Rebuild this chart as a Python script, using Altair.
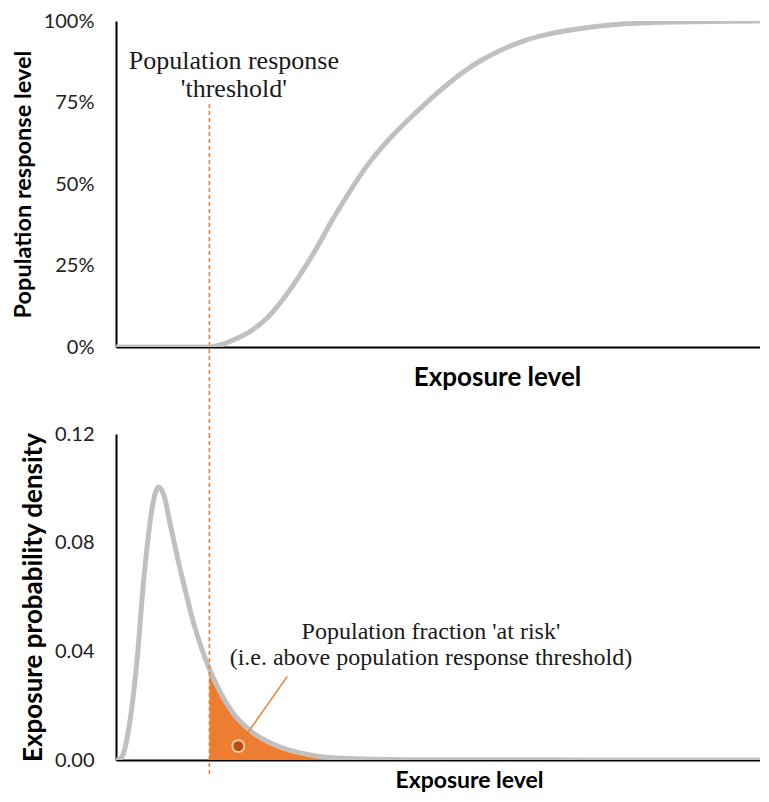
import altair as alt
import pandas as pd

# ---- data ----
threshold = 14.5

resp_x = [0, 10, 14.5, 16.5, 18.3, 21.0, 23.5, 26.0, 28.6, 31.2, 33.6, 36.2, 38.8, 41.3, 43.9, 46.5,
          48.9, 51.5, 54.1, 56.6, 59.2, 63.0, 66.8, 74.5, 84.7, 100]
resp_y = [0, 0, 0, 0.008, 0.022, 0.050, 0.090, 0.148, 0.222, 0.305, 0.390, 0.474, 0.551, 0.613, 0.668, 0.718,
          0.762, 0.806, 0.846, 0.878, 0.905, 0.937, 0.958, 0.983, 0.996, 1.0]

dens_x = [0, 0.3, 1.1, 1.8, 2.6, 3.4, 4.1, 4.9, 5.7, 6.2, 6.6, 7.5, 8.4, 9.5, 10.7, 12.1, 13.3,
          14.5, 16.4, 18.3, 21.0, 23.5, 26.0, 28.6, 31.0, 35.0, 45.0, 100]
dens_y = [0, 0, 0.002, 0.009, 0.022, 0.040, 0.061, 0.080, 0.094, 0.099, 0.1005, 0.097, 0.087, 0.075, 0.063,
          0.050, 0.041, 0.0335, 0.024, 0.0168, 0.0105, 0.0068, 0.0043, 0.0026, 0.0015, 0.0006, 0.0001, 0]

top_note = ["Population response", "'threshold'"]
top_note_x = [18.3, 18.3]
top_note_y = [0.878, 0.792]

bottom_note = ["Population fraction 'at risk'", "(i.e. above population response threshold)"]
bottom_note_x = [48.9, 48.9]
bottom_note_y = [0.0473, 0.0374]

leader_x = [19.0, 26.6]
leader_y = [0.0051, 0.0308]

y_top_ticks = [0, 0.25, 0.5, 0.75, 1.0]
y_bot_ticks = [0, 0.04, 0.08, 0.12]

x_title = "Exposure level"
y_top_title = "Population response level"
y_bot_title = "Exposure probability density"

# ---- frames ----
resp_df = pd.DataFrame({"x": resp_x, "y": resp_y})
dens_df = pd.DataFrame({"x": dens_x, "y": dens_y})
risk_df = dens_df[(dens_df["x"] >= threshold) & (dens_df["x"] <= 45)]
top_note_df = pd.DataFrame({"x": top_note_x, "y": top_note_y, "t": top_note})
bot_note_df = pd.DataFrame({"x": bottom_note_x, "y": bottom_note_y, "t": bottom_note})
leader_df = pd.DataFrame({"x": leader_x, "y": leader_y})
circle_df = pd.DataFrame({"x": [leader_x[0]], "y": [leader_y[0]]})
thr_df = pd.DataFrame({"x": [threshold]})

W, H = 644, 326
GAP = 87
GREY = "#C0C0C0"
ORANGE = "#ED7D31"
SANS = "Lato"
SERIF = "Liberation Serif"


def xaxis(size, tx, pad):
    return alt.Axis(title=x_title, labels=False, ticks=False, grid=False,
                    domainColor="black", domainWidth=2,
                    titleFontSize=size, titleFontWeight="bold", titleFont=SANS,
                    titleColor="black", titlePadding=pad, titleX=tx, titleAlign="center")


def yaxis(title, ticks, fmt, size):
    return alt.Axis(title=title, values=ticks, format=fmt, ticks=False, tickSize=0, grid=False,
                    domainColor="black", domainWidth=2, labelFontSize=20, labelFont=SANS,
                    labelColor="#222222", labelPadding=22, titleFontSize=size,
                    titleFontWeight="bold", titleFont=SANS, titleColor="black", titlePadding=8)


# ---- top panel ----
top_line = alt.Chart(resp_df).mark_line(color=GREY, strokeWidth=5, interpolate="monotone", clip=True).encode(
    x=alt.X("x:Q", scale=alt.Scale(domain=[0, 100], nice=False), axis=xaxis(26, 381, 17)),
    y=alt.Y("y:Q", scale=alt.Scale(domain=[0, 1], nice=False),
            axis=yaxis(y_top_title, y_top_ticks, ".0%", 23.5)),
)
top_rule = alt.Chart(thr_df).mark_rule(color=ORANGE, strokeWidth=1.5, strokeDash=[4, 3]).encode(
    x="x:Q", y=alt.value(83), y2=alt.value(H + GAP)
)
top_text = alt.Chart(top_note_df).mark_text(font=SERIF, fontSize=26, color="#1a1a1a").encode(
    x="x:Q", y="y:Q", text="t:N"
)
top = alt.layer(top_rule, top_line, top_text).properties(width=W, height=H)

# ---- bottom panel ----
x_bot = alt.X("x:Q", scale=alt.Scale(domain=[0, 100], nice=False), axis=xaxis(23, 353, 9))
y_bot = alt.Y("y:Q", scale=alt.Scale(domain=[0, 0.12], nice=False),
              axis=yaxis(y_bot_title, y_bot_ticks, ".2f", 26))

area = alt.Chart(risk_df).mark_area(color=ORANGE, opacity=1, interpolate="monotone").encode(
    x=x_bot, y=y_bot
)
bot_line = alt.Chart(dens_df).mark_line(color=GREY, strokeWidth=5, interpolate="monotone", clip=True).encode(
    x="x:Q", y="y:Q"
)
bot_rule = alt.Chart(thr_df).mark_rule(color=ORANGE, strokeWidth=1.5, strokeDash=[4, 3]).encode(
    x="x:Q", y=alt.value(0), y2=alt.value(H + 15)
)
leader = alt.Chart(leader_df).mark_line(color=ORANGE, strokeWidth=1.5).encode(x="x:Q", y="y:Q")
halo = alt.Chart(circle_df).mark_point(shape="circle", filled=True, size=190, fill="#F6CDB0",
                                       strokeWidth=0, opacity=1).encode(x="x:Q", y="y:Q")
dot = alt.Chart(circle_df).mark_point(shape="circle", filled=True, size=100, fill="#B84F0C",
                                      strokeWidth=0, opacity=1).encode(x="x:Q", y="y:Q")
bot_text = alt.Chart(bot_note_df).mark_text(font=SERIF, fontSize=24, color="#1a1a1a").encode(
    x="x:Q", y="y:Q", text="t:N"
)
bottom = alt.layer(area, bot_line, bot_rule, leader, bot_text, halo, dot).properties(width=W, height=H)

chart = alt.vconcat(top, bottom, spacing=GAP, bounds="flush").properties(
    padding={"left": 3, "top": 3, "right": 0, "bottom": 0}
).configure_view(stroke=None)

chart.save("out.html", embed_options={"renderer": "svg", "actions": False})
